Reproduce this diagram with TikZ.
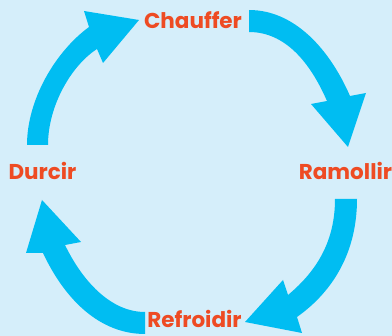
\documentclass[tikz,border=0pt]{standalone}
\usepackage{fontspec}
\setmainfont{Poppins}
\definecolor{bgc}{HTML}{D5EEFA}
\definecolor{arrc}{HTML}{00BDF2}
\definecolor{txtc}{HTML}{EE4B23}
\begin{document}
\begin{tikzpicture}[x=1pt,y=-1pt,
  lab/.style={text=txtc,font=\fontsize{21.5}{25}\selectfont\bfseries,anchor=base,inner sep=0pt},
  bigarrow/.style={fill=arrc,draw=none}]
\fill[bgc] (0,0) rectangle (392,336);
\useasboundingbox (0,0) rectangle (392,336);
\node[lab] (chauffer) at (193,28.5) {Chauffer};
\node[lab] (durcir) at (42.5,180) {Durcir};
\node[lab] (ramollir) at (345.5,180) {Ramollir};
\node[lab] (refroidir) at (194.5,328) {Refroidir};
% Durcir -> Chauffer
\fill[bigarrow] (27,145) .. controls (27,100) and (55,52) .. (89,27) -- (84,11) -- (139,20) -- (103,63) -- (97,49) .. controls (72,65) and (48,105) .. (48,145) -- cycle;
% Chauffer -> Ramollir
\fill[bigarrow] (249,10) .. controls (295,10) and (330,50) .. (350,96) -- (366,93) -- (348,147) -- (311,104) -- (327,101) .. controls (310,62) and (285,32) .. (249,32) -- cycle;
% Ramollir -> Refroidir
\fill[bigarrow] (357,199) .. controls (357,250) and (335,290) .. (297,317) -- (302,333) -- (245,322) -- (283,280) -- (288,295) .. controls (318,270) and (335,240) .. (335,199) -- cycle;
% Refroidir -> Durcir
\fill[bigarrow] (145,334) .. controls (100,334) and (65,300) .. (43,253) -- (26,253) -- (42,200) -- (81,242) -- (65,245) .. controls (82,280) and (110,312) .. (145,312) -- cycle;
\end{tikzpicture}
\end{document}
